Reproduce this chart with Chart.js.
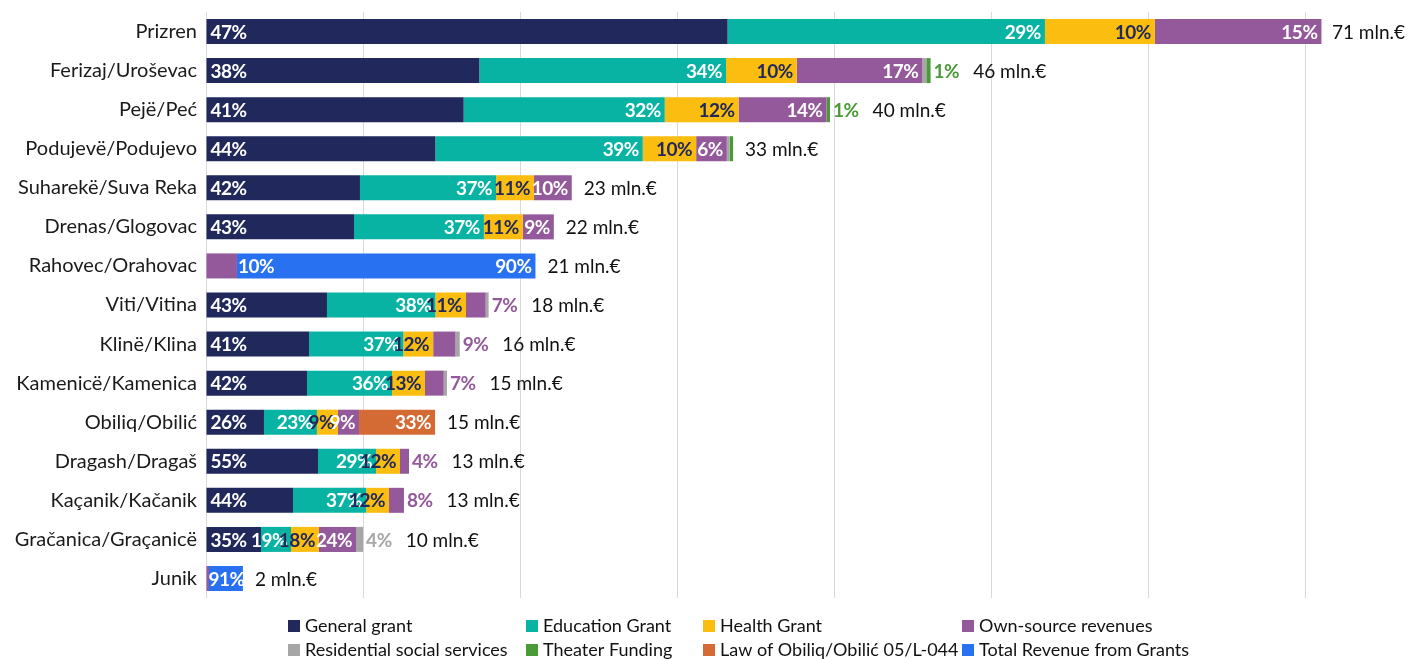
<!DOCTYPE html>
<html>
<head>
<meta charset="utf-8">
<script src="https://cdn.jsdelivr.net/npm/chart.js@4/dist/chart.umd.min.js"></script>
<style>
  html, body { margin: 0; padding: 0; background: #ffffff; }
  #wrap { width: 1407px; height: 659px; }
</style>
</head>
<body>
<div id="wrap"><canvas id="grantsChart" width="1407" height="659"></canvas></div>
<script>
// municipalities, top to bottom
var cities = ['Prizren', 'Ferizaj/Uroševac', 'Pejë/Peć', 'Podujevë/Podujevo', 'Suharekë/Suva Reka',
    'Drenas/Glogovac', 'Rahovec/Orahovac', 'Viti/Vitina', 'Klinë/Klina', 'Kamenicë/Kamenica',
    'Obiliq/Obilić', 'Dragash/Dragaš', 'Kaçanik/Kačanik', 'Gračanica/Graçanicë', 'Junik'];

// amounts in mln.€
var generalGrant   = [33.2, 17.4, 16.4, 14.6, 9.8, 9.42, 0, 7.7, 6.56, 6.43, 3.69, 7.13, 5.54, 3.5, 0];
var educationGrant = [20.2, 15.7, 12.8, 13.2, 8.66, 8.27, 0, 6.9, 6.0, 5.41, 3.37, 3.69, 4.65, 1.91, 0];
var healthGrant    = [7.0, 4.5, 4.7, 3.4, 2.42, 2.48, 0, 1.95, 1.9, 2.1, 1.34, 1.53, 1.46, 1.78, 0];
var ownSource      = [10.6, 8.0, 5.6, 1.95, 2.4, 1.97, 1.97, 1.25, 1.42, 1.19, 1.34, 0.57, 0.95, 2.36, 0.19];
var residential    = [0, 0.25, 0, 0.17, 0, 0, 0, 0.19, 0.27, 0.21, 0, 0, 0, 0.45, 0];
var theater        = [0, 0.27, 0.22, 0.23, 0, 0, 0, 0, 0, 0, 0, 0, 0, 0, 0];
var lawObiliq      = [0, 0, 0, 0, 0, 0, 0, 0, 0, 0, 4.84, 0, 0, 0, 0];
var totalGrants    = [0, 0, 0, 0, 0, 0, 19.0, 0, 0, 0, 0, 0, 0, 0, 2.16];

// percentage labels (null = no label)
var generalPct     = [47, 38, 41, 44, 42, 43, null, 43, 41, 42, 26, 55, 44, 35, null];
var educationPct   = [29, 34, 32, 39, 37, 37, null, 38, 37, 36, 23, 29, 37, 19, null];
var healthPct      = [10, 10, 12, 10, 11, 11, null, 11, 12, 13, 9, 12, 12, 18, null];
var ownPct         = [15, 17, 14, 6, 10, 9, 10, 7, 9, 7, 9, 4, 8, 24, null];
var residentialPct = [null, null, null, null, null, null, null, null, null, null, null, null, null, 4, null];
var theaterPct     = [null, 1, 1, null, null, null, null, null, null, null, null, null, null, null, null];
var lawPct         = [null, null, null, null, null, null, null, null, null, null, 33, null, null, null, null];
var totalGrantPct  = [null, null, null, null, null, null, 90, null, null, null, null, null, null, null, 91];

// totals shown at bar end
var totals = [71, 46, 40, 33, 23, 22, 21, 18, 16, 15, 15, 13, 13, 10, 2];

var FONT = 'Lato, "Noto Sans", sans-serif';
var NAVY = '#21295c';

var series = [
    { label: 'General grant', data: generalGrant, pct: generalPct, color: NAVY, text: '#ffffff' },
    { label: 'Education Grant', data: educationGrant, pct: educationPct, color: '#08b3a3', text: '#ffffff' },
    { label: 'Health Grant', data: healthGrant, pct: healthPct, color: '#fbbd0f', text: NAVY },
    { label: 'Own-source revenues', data: ownSource, pct: ownPct, color: '#93599b', text: '#ffffff' },
    { label: 'Residential social services', data: residential, pct: residentialPct, color: '#a6a6a6', text: '#ffffff' },
    { label: 'Theater Funding', data: theater, pct: theaterPct, color: '#4b9a38', text: '#ffffff' },
    { label: 'Law of Obiliq/Obilić 05/L-044', data: lawObiliq, pct: lawPct, color: '#d46b35', text: '#ffffff' },
    { label: 'Total Revenue from Grants', data: totalGrants, pct: totalGrantPct, color: '#2872f1', text: '#ffffff' }
];

// percentage labels + totals drawn after the bars
var labelPlugin = {
    id: 'barLabels',
    afterDatasetsDraw: function(chart) {
        var ctx = chart.ctx;
        ctx.save();
        ctx.textBaseline = 'middle';
        for (var j = 0; j < cities.length; j++) {
            var barEnd = 0, barStart = null, outsideEnd = 0;
            for (var i = 0; i < series.length; i++) {
                var el = chart.getDatasetMeta(i).data[j];
                if (series[i].data[j] > 0) {
                    barEnd = Math.max(barEnd, el.x);
                    if (barStart === null) barStart = el.base;
                }
            }
            for (var i = 0; i < series.length; i++) {
                var s = series[i];
                if (s.pct[j] === null || !(s.data[j] > 0)) continue;
                var el = chart.getDatasetMeta(i).data[j];
                var txt = s.pct[j] + '%';
                ctx.font = 'bold 19px ' + FONT;
                ctx.letterSpacing = '-0.5px';
                var w = ctx.measureText(txt).width;
                var segW = el.x - el.base;
                var rest = 0;
                for (var k = i + 1; k < series.length; k++) rest += series[k].data[j];

                if (i === 0) {
                    ctx.fillStyle = s.text;
                    ctx.textAlign = 'left';
                    ctx.fillText(txt, el.base + 4, el.y + 1);
                } else if (rest < 0.5 && segW < 24) {
                    // small last piece: label goes outside the bar
                    var x0 = Math.max(barEnd, outsideEnd) + 3;
                    ctx.fillStyle = s.color;
                    ctx.textAlign = 'left';
                    ctx.fillText(txt, x0, el.y + 1);
                    outsideEnd = x0 + w + 2;
                } else if (el.x - 4 - w < barStart) {
                    ctx.fillStyle = '#ffffff';
                    ctx.textAlign = 'left';
                    if (el.base - barStart < 1) {
                        ctx.fillText(txt, el.x + 1, el.y + 1);
                    } else {
                        ctx.fillText(txt, barStart + 2, el.y + 1);
                    }
                } else {
                    ctx.fillStyle = s.text;
                    ctx.textAlign = 'right';
                    ctx.fillText(txt, el.x - 4, el.y + 1);
                }
            }
            var meta0 = chart.getDatasetMeta(0).data[j];
            ctx.font = '19px ' + FONT;
            ctx.letterSpacing = '0px';
            ctx.fillStyle = '#111111';
            ctx.textAlign = 'left';
            var tt = totals[j] + ' mln.€';
            var tw = ctx.measureText(tt).width;
            var tx = Math.max(barEnd, outsideEnd) + 12;
            tx = Math.min(tx, chart.width - tw - 2);
            ctx.fillText(tt, tx, meta0.y + 1);
        }
        ctx.restore();
    }
};

// legend laid out in four columns, two rows
var legendCols = [288, 526, 703, 962];
var legendRows = [626, 650];
var legendPlugin = {
    id: 'gridLegend',
    afterDraw: function(chart) {
        var ctx = chart.ctx;
        ctx.save();
        ctx.font = '18px ' + FONT;
        ctx.textBaseline = 'middle';
        ctx.textAlign = 'left';
        for (var i = 0; i < series.length; i++) {
            var x = legendCols[i % 4];
            var y = legendRows[Math.floor(i / 4)];
            ctx.fillStyle = series[i].color;
            ctx.fillRect(x, y - 6, 12, 12);
            ctx.fillStyle = '#111111';
            ctx.fillText(series[i].label, x + 17, y);
        }
        ctx.restore();
    }
};

var ctx = document.getElementById('grantsChart').getContext('2d');
var grantsChart = new Chart(ctx, {
    type: 'bar',
    data: {
        labels: cities,
        datasets: series.map(function(s) {
            return {
                label: s.label,
                data: s.data,
                backgroundColor: s.color,
                borderWidth: 0,
                barPercentage: 0.64,
                categoryPercentage: 1.0
            };
        })
    },
    options: {
        indexAxis: 'y',
        responsive: false,
        animation: false,
        layout: { padding: { top: 12, bottom: 61, right: 7, left: 0 } },
        plugins: {
            legend: { display: false },
            tooltip: { enabled: false }
        },
        scales: {
            x: {
                stacked: true,
                min: 0,
                max: 76,
                ticks: { display: false, stepSize: 10, includeBounds: false },
                grid: { color: '#d9d9d9', lineWidth: 1, drawTicks: false },
                border: { display: false },
                afterFit: function(scale) { scale.height = 0; scale.paddingLeft = 0; scale.paddingRight = 0; }
            },
            y: {
                stacked: true,
                grid: { display: false, drawTicks: false },
                border: { display: false },
                ticks: { color: '#1a1a1a', font: { family: FONT, size: 20 }, padding: 9 },
                afterFit: function(scale) { scale.width = 206; scale.paddingTop = 0; scale.paddingBottom = 0; }
            }
        }
    },
    plugins: [labelPlugin, legendPlugin]
});
</script>
</body>
</html>
